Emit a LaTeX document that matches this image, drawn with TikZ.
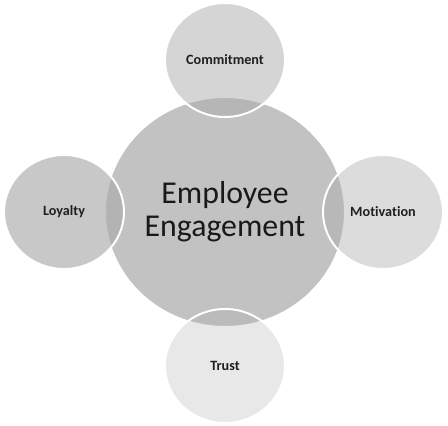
\documentclass[tikz,border=0pt]{standalone}
\usepackage{fontspec}
\setmainfont{Carlito}[RawFeature=-liga]
\usetikzlibrary{shapes.geometric}
\definecolor{hubgray}{gray}{0.76}
\definecolor{basegray}{gray}{0.67}
\definecolor{labelgray}{gray}{0.12}
\begin{document}
\begin{tikzpicture}[x=1pt,y=1pt,
  bubble/.style={ellipse, inner sep=0pt, minimum width=120pt, minimum height=114pt,
    draw=white, line width=2pt, fill=basegray, text opacity=1,
    font=\fontsize{14.2}{17}\selectfont\bfseries, text=labelgray},
  hub/.style={ellipse, inner sep=0pt, minimum width=240pt, minimum height=230pt,
    fill=hubgray, draw=white, line width=2pt, align=center,
    font=\fontsize{31.8}{33}\selectfont, text=black!90}]
\fill[white] (0,0) rectangle (448,426);
\useasboundingbox (0,0) rectangle (448,426);
\node[hub] (hub) at (225,214) {Employee\\Engagement};
\node[bubble, fill opacity=0.49] (commit) at (225,366) {Commitment};
\node[bubble, fill opacity=0.65] (loyal) at (64,214) {Loyalty};
\node[bubble, fill opacity=0.41] (motiv) at (383,214) {Motivation};
\node[bubble, fill opacity=0.27] (trust) at (225,60) {Trust};
\end{tikzpicture}
\end{document}
